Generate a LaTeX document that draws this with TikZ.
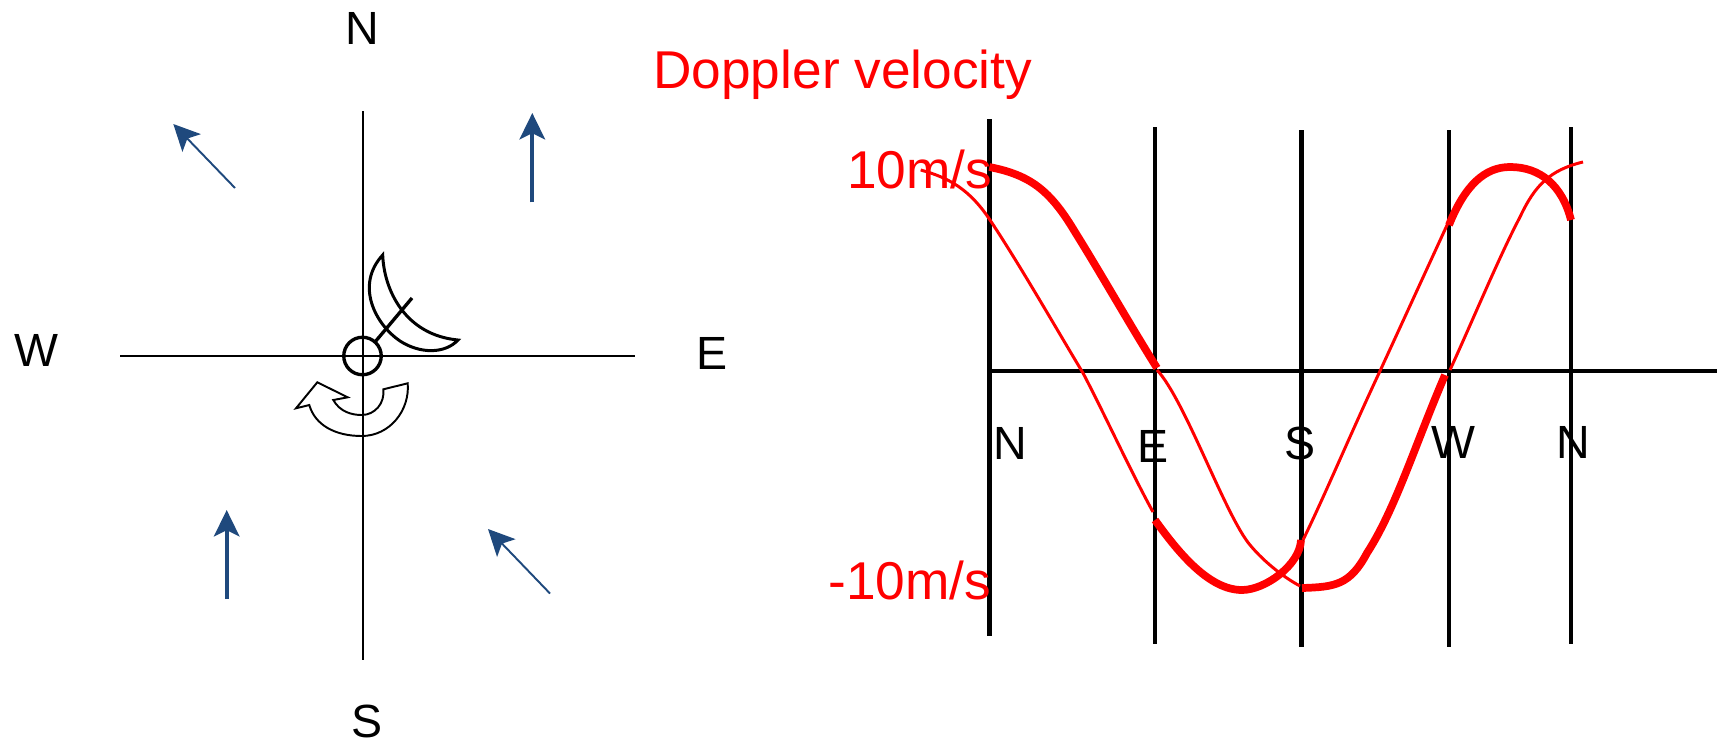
\documentclass[tikz,border=0pt]{standalone}
\usepackage{fontspec}
\setmainfont{Liberation Sans}
\usetikzlibrary{arrows.meta}
\definecolor{windblue}{HTML}{1F497D}

\begin{document}
\begin{tikzpicture}[
    x=0.02cm, y=-0.02cm,
    compass/.style={font=\fontsize{26.5}{27}\selectfont, anchor=base, inner sep=0pt},
    redlabel/.style={font=\fontsize{30.3}{31}\selectfont, text=red, anchor=base west, inner sep=0pt},
    grid/.style={draw=black, line width=2.6pt},
    thickcurve/.style={draw=red, line width=4.4pt},
    thincurve/.style={draw=red, line width=1.7pt},
    wind/.style={draw=windblue, -{Stealth[length=15pt, width=14.5pt, inset=3.5pt]}}
]
    \useasboundingbox (0,0) rectangle (1717,744);

    % Compass
    \node[compass] (north) at (362,44) {N};
    \node[compass] (south) at (367,737) {S};
    \node[compass] (west) at (36,366) {W};
    \node[compass] (east) at (712,369) {E};
    \draw[line width=1.15pt] (362.7,111) -- (362.7,660);
    \draw[line width=1.15pt] (120,356) -- (635,356);

    % Radar
    \node[draw, circle, line width=1.9pt, minimum size=0.75cm, inner sep=0pt] (radar) at (362.5,356) {};
    \draw[line width=1.9pt] (375,342) -- (412,298);
    \draw[line width=1.7pt, line join=miter]
        (382.7,255) .. controls (384,290) and (405,335) .. (458,340)
        .. controls (445,354) and (420,354) .. (400,341)
        .. controls (375,324) and (355,285) .. (382.7,255) -- cycle;

    % Rotation
    \draw[line width=1.1pt, line join=miter]
        (296,408.3) -- (317.3,382.3) -- (347.7,397.3) -- (333.3,400)
        .. controls (340,412) and (352,415) .. (361.7,415)
        .. controls (375,415) and (385,403) .. (383.3,389.3)
        -- (407.7,383.3)
        .. controls (410,410) and (390,436) .. (361.7,436)
        .. controls (335,436) and (315,425) .. (309.3,405)
        -- cycle;

    % Wind
    \draw[wind, line width=1.1pt] (235,188) -- (173.3,124);
    \draw[wind, line width=2.3pt] (532.3,202.3) -- (532.3,113);
    \draw[wind, line width=2.3pt] (226.7,599) -- (226.7,510);
    \draw[wind, line width=1.1pt] (550,593.5) -- (488,529);

    % Doppler plot
    \node[redlabel] (title) at (653,88) {Doppler velocity};
    \draw[grid] (989.3,119) -- (989.3,635.7);
    \draw[grid] (1155,127) -- (1155,644);
    \draw[grid] (1301.7,130) -- (1301.7,646.7);
    \draw[grid, line width=2.2pt] (1449,130) -- (1449,646.7);
    \draw[grid, line width=2.2pt] (1571,127) -- (1571,644);
    \draw[grid, line width=2.2pt] (989.3,370.7) -- (1717,370.7);

    \node[compass] (tickN) at (1010,459) {N};
    \node[compass] (tickE) at (1153,462) {E};
    \node[compass] (tickS) at (1300,459) {S};
    \node[compass] (tickW) at (1453,458) {W};
    \node[compass] (tickNb) at (1573,458) {N};
    \node[redlabel] (top) at (847,188) {10m/s};
    \node[redlabel] (bottom) at (828,599) {-10m/s};

    % Curves
    \draw[thickcurve] (989.3,167) .. controls (1030,175) and (1050,190) .. (1075,232)
        .. controls (1100,272) and (1130,325) .. (1157,368);
    \draw[thickcurve] (1155,520) .. controls (1180,555) and (1210,590) .. (1242,590)
        .. controls (1265,590) and (1300,565) .. (1301,540);
    \draw[thickcurve] (1302,588) .. controls (1335,587) and (1350,585) .. (1367,553)
        .. controls (1395,510) and (1415,445) .. (1445,375);
    \draw[thickcurve] (1449,225) .. controls (1465,185) and (1485,167) .. (1510,167)
        .. controls (1540,167) and (1562,185) .. (1571,220);

    \draw[thincurve] (920.7,170) .. controls (950,178) and (970,190) .. (990,220)
        .. controls (1020,265) and (1060,335) .. (1083,373)
        .. controls (1105,415) and (1130,470) .. (1153,512);
    \draw[thincurve] (1157,370) .. controls (1185,400) and (1225,515) .. (1250,545)
        .. controls (1265,563) and (1285,578) .. (1300,586);
    \draw[thincurve] (1303,540) .. controls (1325,495) and (1350,435) .. (1380,371)
        .. controls (1403,321) and (1425,273) .. (1448,223);
    \draw[thincurve] (1450,370) .. controls (1475,315) and (1500,255) .. (1520,217)
        .. controls (1535,185) and (1550,170) .. (1583,162);
\end{tikzpicture}
\end{document}
